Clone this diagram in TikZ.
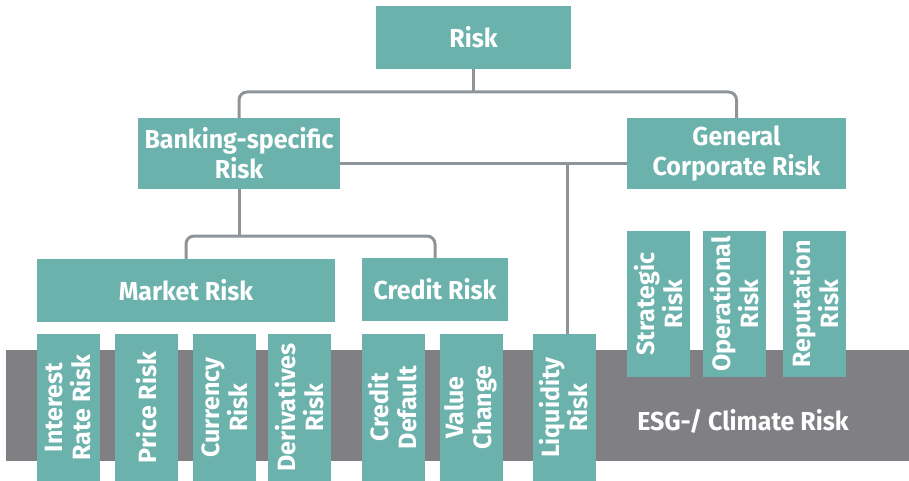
\documentclass[tikz,border=0pt]{standalone}
\usepackage{fontspec}
\setmainfont{Fira Sans}
\newfontfamily\hfont[FakeStretch=0.96]{Fira Sans}
\newfontfamily\vfont{Fira Sans}
\usetikzlibrary{calc}
\definecolor{teal}{HTML}{6CB2AC}
\definecolor{band}{HTML}{808084}
\definecolor{conn}{HTML}{8F9499}
\tikzset{
  hbox/.style={fill=teal, text=white, inner sep=0pt, align=center,
    font=\hfont\bfseries\fontsize{26}{30}\selectfont},
  vbox/.style={fill=teal, text=white, inner sep=0pt, align=center, rotate=90,
    font=\vfont\bfseries\fontsize{25}{28}\selectfont, minimum height=63pt},
  link/.style={draw=conn, line width=3pt, rounded corners=8pt}
}
\begin{document}
\begin{tikzpicture}[x=1pt,y=-1pt]
\useasboundingbox (0,0) rectangle (909,481);
% gray band
\fill[band] (6,350) rectangle (909,461);
\node[text=white, font=\hfont\bfseries\fontsize{26}{30}\selectfont] (esg) at (743,421) {ESG-/ Climate Risk};
% top levels
\node[hbox, minimum width=195pt, minimum height=63pt] (risk) at (473.5,37.5) {Risk};
\node[hbox, minimum width=202pt, minimum height=71pt] (bank) at (239,153.5) {Banking-specific\\Risk};
\node[hbox, minimum width=219pt, minimum height=71pt] (gen) at (736.5,153.5) {General\\Corporate Risk};
\node[hbox, minimum width=298pt, minimum height=63pt] (mkt) at (186,290.5) {Market Risk};
\node[hbox, minimum width=146pt, minimum height=63pt] (cred) at (435,289.5) {Credit Risk};
% lower vertical boxes
\node[vbox, minimum width=147pt] (ir)  at (68.5,407.5) {Interest\\Rate Risk};
\node[vbox, minimum width=147pt] (pr)  at (146.5,407.5) {Price Risk};
\node[vbox, minimum width=147pt] (cu)  at (224.5,407.5) {Currency\\Risk};
\node[vbox, minimum width=147pt] (de)  at (299.5,407.5) {Derivatives\\Risk};
\node[vbox, minimum width=147pt] (cd)  at (393,407.5) {Credit\\Default};
\node[vbox, minimum width=147pt] (vc)  at (471,407.5) {Value\\Change};
\node[vbox, minimum width=147pt] (liq) at (564,407.5) {Liquidity\\Risk};
% general corporate sub boxes
\node[vbox, minimum width=146pt] (st) at (658.5,304) {Strategic\\Risk};
\node[vbox, minimum width=146pt] (op) at (734.5,304) {Operational\\Risk};
\node[vbox, minimum width=146pt] (re) at (814.5,304) {Reputation\\Risk};
% connectors
\coordinate (t1) at (473.5,92);
\draw[link] (risk.south) -- (t1);
\draw[link] (bank.north) |- (t1) -| (gen.north);
\coordinate (j) at (567,164);
\draw[link] (bank.east |- j) -- (gen.west |- j);
\draw[link] (j) -- (j |- liq.east);
\coordinate (t2) at (239,236);
\draw[link] (bank.south) -- (t2);
\draw[link] (mkt.north) |- (t2) -| (cred.north);
\end{tikzpicture}
\end{document}
